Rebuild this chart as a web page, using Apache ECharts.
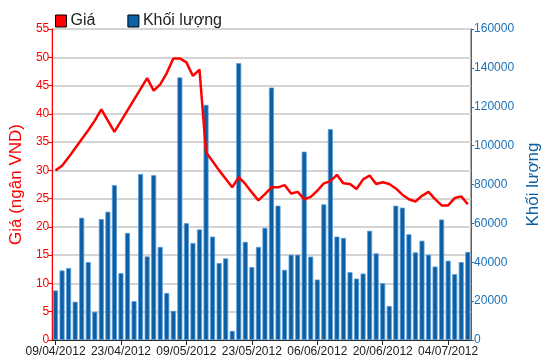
<!DOCTYPE html>
<html><head><meta charset="utf-8">
<script src="https://cdn.jsdelivr.net/npm/echarts@6/dist/echarts.min.js"></script>
<style>html,body{margin:0;padding:0;background:#fff}#c{width:550px;height:364px}</style>
</head><body><div id="c"></div>
<script>
const dates = ["09/04/2012","10/04/2012","11/04/2012","12/04/2012","13/04/2012","16/04/2012","17/04/2012","18/04/2012","19/04/2012","20/04/2012",
"23/04/2012","24/04/2012","25/04/2012","26/04/2012","27/04/2012","02/05/2012","03/05/2012","04/05/2012","07/05/2012","08/05/2012",
"09/05/2012","10/05/2012","11/05/2012","14/05/2012","15/05/2012","16/05/2012","17/05/2012","18/05/2012","21/05/2012","22/05/2012",
"23/05/2012","24/05/2012","25/05/2012","28/05/2012","29/05/2012","30/05/2012","31/05/2012","01/06/2012","04/06/2012","05/06/2012",
"06/06/2012","07/06/2012","08/06/2012","11/06/2012","12/06/2012","13/06/2012","14/06/2012","15/06/2012","18/06/2012","19/06/2012",
"20/06/2012","21/06/2012","22/06/2012","25/06/2012","26/06/2012","27/06/2012","28/06/2012","29/06/2012","02/07/2012","03/07/2012",
"04/07/2012","05/07/2012","06/07/2012","09/07/2012"];
const price = [30.0,30.8,32.3,33.9,35.5,37.1,38.8,40.8,38.8,36.8,
38.7,40.6,42.5,44.4,46.3,44.1,45.2,47.2,49.8,49.8,
49.1,46.7,47.8,33.2,31.6,30.0,28.5,27.0,28.8,27.6,
26.1,24.7,25.8,27.0,27.0,27.4,25.9,26.2,24.9,25.3,
26.4,27.7,28.1,29.2,27.7,27.6,26.7,28.4,29.1,27.6,
27.9,27.6,26.8,25.7,24.9,24.5,25.5,26.2,24.9,23.8,
23.8,25.1,25.4,24.0];
const volume = [25500,35800,37000,19700,62900,40100,14500,62200,66000,79700,
34400,55100,20000,85400,43000,84800,47900,24200,15000,135100,
60100,49900,56900,121000,53200,39600,42000,4700,142400,50500,
37500,47900,57700,129900,69100,36100,43900,43900,96900,42900,
31100,69800,108500,53200,52500,34900,31600,34200,56200,44600,
29200,17500,69100,68100,54400,45100,51100,43900,37800,62000,
40800,33900,40100,45300];
const priceTicks = {min:0, max:55, interval:5};
const volTicks = {min:0, max:160000, interval:20000};

const chart = echarts.init(document.getElementById('c'), null, {renderer:'canvas'});
const narrow = '"Liberation Sans Narrow", "Arial Narrow", Arial, sans-serif';
chart.setOption({
  animation:false,
  backgroundColor:'#fff',
  legend:{
    left:50, top:8, itemGap:32, itemWidth:11, itemHeight:12,
    textStyle:{fontFamily:'"Liberation Sans", Arial, sans-serif', fontSize:16, color:'#222', padding:[0,0,0,-1]},
    data:[
      {name:'Giá', icon:'rect', itemStyle:{color:'#ff0000', borderColor:'#000', borderWidth:1}},
      {name:'Khối lượng', icon:'rect', itemStyle:{color:'#0a62a8', borderColor:'#000', borderWidth:1}}
    ]
  },
  grid:{left:46, right:72, top:29, bottom:24, show:true, borderColor:'#444', borderWidth:1, backgroundColor:'transparent'},
  xAxis:{
    type:'category', data:dates, boundaryGap:true,
    axisLine:{lineStyle:{color:'#222', width:1}},
    axisTick:{show:true, interval:9, alignWithLabel:true, length:5, lineStyle:{color:'#222'}},
    axisLabel:{interval:9, fontFamily:narrow, fontSize:12, color:'#222', margin:6}
  },
  yAxis:[
    {type:'value', min:priceTicks.min, max:priceTicks.max, interval:priceTicks.interval, position:'left',
     name:'Giá (ngân VND)', nameLocation:'middle', nameGap:25, nameRotate:90,
     nameTextStyle:{color:'#ff0000', fontSize:17, fontFamily:'"Liberation Sans", Arial, sans-serif'},
     axisLine:{show:true, lineStyle:{color:'#ff0000', width:1}},
     axisTick:{show:true, length:4, lineStyle:{color:'#ff0000'}},
     axisLabel:{color:'#ff0000', fontFamily:narrow, fontSize:12, margin:3},
     splitLine:{show:true, lineStyle:{color:'#d4d4d4', width:2}}
    },
    {type:'value', min:volTicks.min, max:volTicks.max, interval:volTicks.interval, position:'right',
     name:'Khối lượng', nameLocation:'middle', nameGap:50, nameRotate:90,
     nameTextStyle:{color:'#0a5fa0', fontSize:17, fontFamily:'"Liberation Sans", Arial, sans-serif'},
     axisLine:{show:true, lineStyle:{color:'#1a70b8', width:1}},
     axisTick:{show:true, length:3, lineStyle:{color:'#1a70b8'}},
     axisLabel:{color:'#1a70b8', fontFamily:narrow, fontSize:12, margin:3, formatter:function(v){return String(v);}},
     splitLine:{show:false}
    }
  ],
  series:[
    {name:'Khối lượng', type:'bar', yAxisIndex:1, data:volume, barWidth:5,
     itemStyle:{color:'#0a5fa5', borderColor:'#5b9bd8', borderWidth:0.8}},
    {name:'Giá', type:'line', yAxisIndex:0, data:price, symbol:'none', z:5,
     lineStyle:{color:'#ff0000', width:2.5}}
  ]
});
</script></body></html>
